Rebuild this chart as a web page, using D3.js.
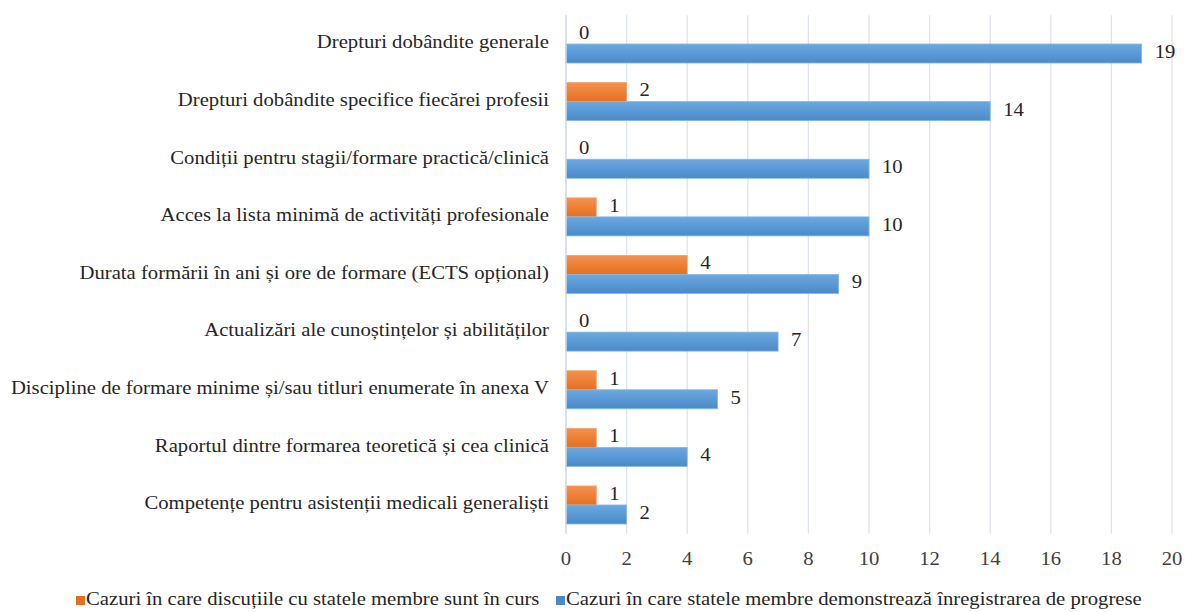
<!DOCTYPE html>
<html>
<head>
<meta charset="utf-8">
<script src="https://cdn.jsdelivr.net/npm/d3@7"></script>
<style>
  body { margin: 0; background: #fff; }
</style>
</head>
<body>
<svg id="chart" width="1185" height="612"></svg>
<script>
// ---- data ----
const categories = [
    'Drepturi dobândite generale',
    'Drepturi dobândite specifice fiecărei profesii',
    'Condiții pentru stagii/formare practică/clinică',
    'Acces la lista minimă de activități profesionale',
    'Durata formării în ani și ore de formare (ECTS opțional)',
    'Actualizări ale cunoștințelor și abilităților',
    'Discipline de formare minime și/sau titluri enumerate în anexa V',
    'Raportul dintre formarea teoretică și cea clinică',
    'Competențe pentru asistenții medicali generaliști'
];
const seriesNames = [
    'Cazuri în care discuțiile cu statele membre sunt în curs',
    'Cazuri în care statele membre demonstrează înregistrarea de progrese'
];
const discussions = [0, 2, 0, 1, 4, 0, 1, 1, 1];
const progress = [19, 14, 10, 10, 9, 7, 5, 4, 2];
const xTicks = [0, 2, 4, 6, 8, 10, 12, 14, 16, 18, 20];

// ---- layout ----
const svg = d3.select('#chart');
const plotLeft = 566, plotRight = 1172, plotTop = 15.2, plotBottom = 533.8;
const fontFamily = 'Liberation Serif';
const fontSize = 19;
const stretch = 1.09; // reference text is a little wider than the font

const x = d3.scaleLinear().domain([0, 20]).range([plotLeft, plotRight]);
const y = d3.scaleBand().domain(categories).range([plotTop, plotBottom]).paddingInner(0.34).paddingOuter(0.17);
const sub = d3.scaleBand().domain([0, 1]).range([0, y.bandwidth()]);

const colors = [
    { top: '#f4914f', bottom: '#e66f1d', stroke: '#f5a06a' },
    { top: '#6ca8df', bottom: '#4a8acb', stroke: '#86b8e6' }
];

const defs = svg.append('defs');
colors.forEach((c, i) => {
    const g = defs.append('linearGradient').attr('id', 'grad' + i)
        .attr('x1', 0).attr('y1', 0).attr('x2', 0).attr('y2', 1);
    g.append('stop').attr('offset', '0%').attr('stop-color', c.top);
    g.append('stop').attr('offset', '100%').attr('stop-color', c.bottom);
});

// text placed at (px, py), stretched horizontally
function label(sel, px, py) {
    return sel
        .attr('transform', (d, i) => `translate(${px(d, i)},${py(d, i)}) scale(${stretch},1)`)
        .attr('font-family', fontFamily)
        .attr('font-size', fontSize)
        .attr('dominant-baseline', 'middle');
}

// gridlines
svg.append('g').selectAll('line')
    .data(xTicks)
    .join('line')
    .attr('x1', d => x(d)).attr('x2', d => x(d))
    .attr('y1', plotTop).attr('y2', plotBottom)
    .attr('stroke', '#dde3ec')
    .attr('stroke-width', 1.3);

// x axis labels
svg.append('g').selectAll('text')
    .data(xTicks)
    .join('text')
    .call(label, d => x(d), () => 561)
    .attr('text-anchor', 'middle')
    .attr('fill', '#404040')
    .text(d => d);

// category labels
svg.append('g').selectAll('text')
    .data(categories)
    .join('text')
    .call(label, () => 549, d => y(d) + y.bandwidth() / 2)
    .attr('text-anchor', 'end')
    .attr('fill', '#262626')
    .text(d => d);

// bars
const series = [discussions, progress];
series.forEach((vals, si) => {
    const g = svg.append('g');
    const rows = categories.map((c, i) => ({ cat: c, value: vals[i] }));

    g.selectAll('rect')
        .data(rows.filter(d => d.value > 0))
        .join('rect')
        .attr('x', x(0))
        .attr('y', d => y(d.cat) + sub(si))
        .attr('width', d => x(d.value) - x(0))
        .attr('height', sub.bandwidth())
        .attr('fill', 'url(#grad' + si + ')')
        .attr('stroke', colors[si].stroke)
        .attr('stroke-width', 0.8);

    g.selectAll('text')
        .data(rows)
        .join('text')
        .call(label, d => x(d.value) + 13, d => y(d.cat) + sub(si) + sub.bandwidth() / 2)
        .attr('fill', '#262626')
        .text(d => d.value);
});

// axis line at zero
svg.append('line')
    .attr('x1', x(0)).attr('x2', x(0))
    .attr('y1', plotTop).attr('y2', plotBottom)
    .attr('stroke', '#d4dbe6')
    .attr('stroke-width', 1.3);

// legend
const legendX = [76, 556];
const legend = svg.append('g').selectAll('g')
    .data(seriesNames)
    .join('g')
    .attr('transform', (d, i) => `translate(${legendX[i]},601)`);
legend.append('rect')
    .attr('x', 0).attr('y', -5)
    .attr('width', 9).attr('height', 9)
    .attr('fill', (d, i) => colors[i].bottom);
legend.append('text')
    .call(label, () => 10, () => 0)
    .attr('fill', '#262626')
    .text(d => d);
</script>
</body>
</html>
